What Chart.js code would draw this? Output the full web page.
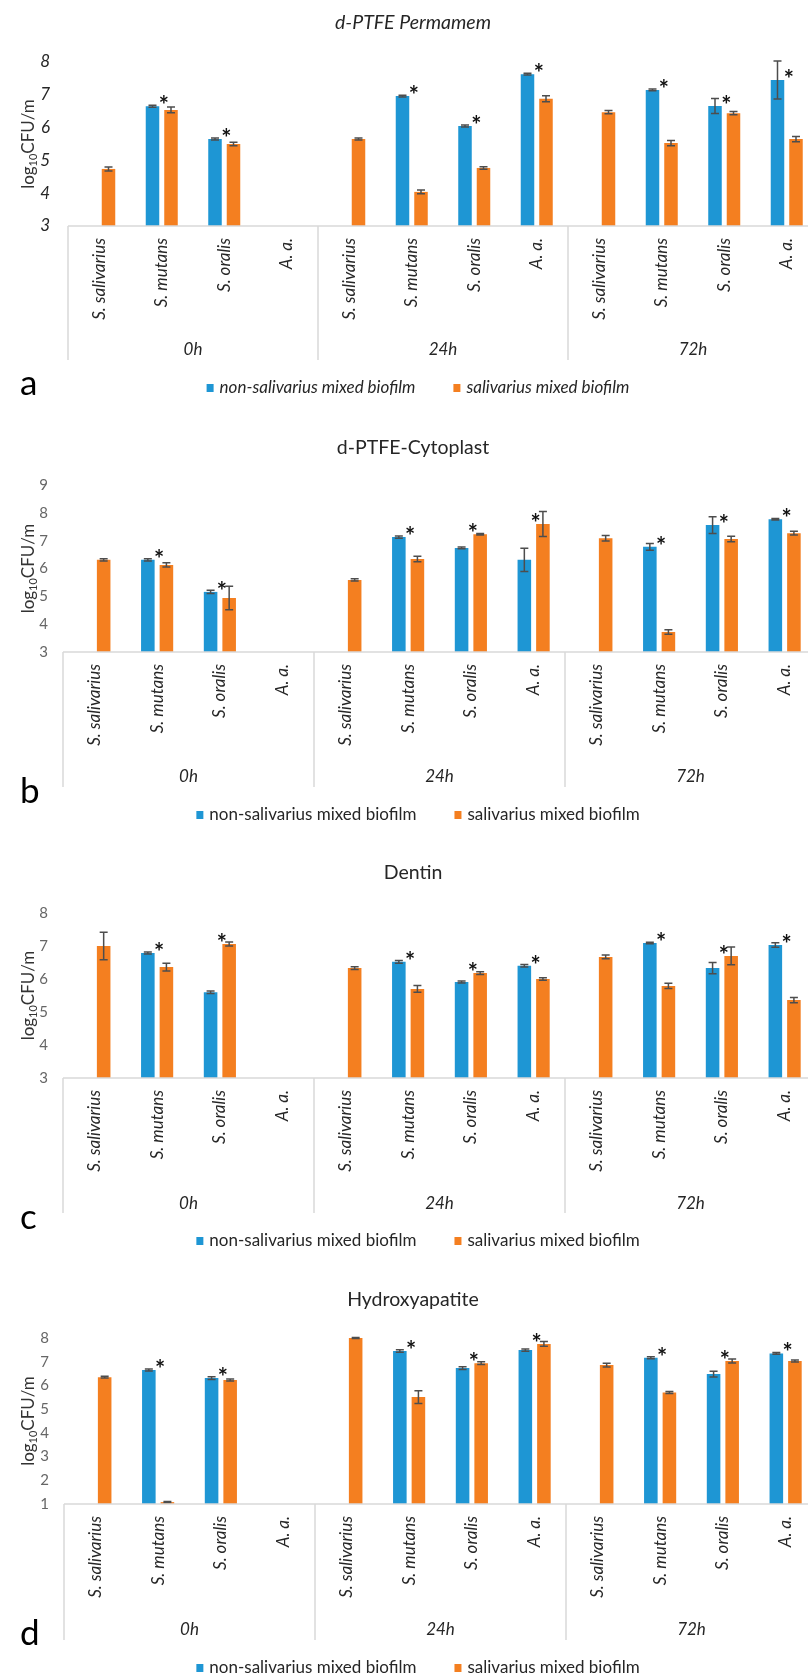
<!DOCTYPE html>
<html>
<head>
<meta charset="utf-8">
<script src="https://cdn.jsdelivr.net/npm/chart.js@4.4.1/dist/chart.umd.min.js"></script>
<style>
html,body{margin:0;padding:0;background:#fff;overflow:hidden;}
#wrap{position:relative;width:830px;height:1677px;overflow:hidden;}
canvas{position:absolute;left:0;display:block;}
</style>
</head>
<body>
<div id="wrap">
<canvas id="ca" width="830" height="420" style="top:0px"></canvas>
<canvas id="cb" width="830" height="430" style="top:420px"></canvas>
<canvas id="cc" width="830" height="410" style="top:850px"></canvas>
<canvas id="cd" width="830" height="417" style="top:1260px"></canvas>
</div>
<script>
// ---------- data ----------
const speciesLabels = ['S. salivarius', 'S. mutans', 'S. oralis', 'A. a.'];
const timeGroups = ['0h', '24h', '72h'];
const seriesNames = ['non-salivarius mixed biofilm', 'salivarius mixed biofilm'];
const categories = timeGroups.flatMap(() => speciesLabels);
const starCategories = [1, 2, 5, 6, 7, 9, 10, 11];

// a) d-PTFE Permamem
const permamemNonSal    = [null, 6.65, 5.65, null,  null, 6.96, 6.05, 7.63,  null, 7.15, 6.66, 7.45];
const permamemNonSalErr = [0,    0.03, 0.03, 0,     0,    0.03, 0.03, 0.03,  0,    0.03, 0.23, 0.58];
const permamemSal       = [4.74, 6.54, 5.50, null,  5.65, 4.04, 4.77, 6.88,  6.47, 5.53, 6.44, 5.65];
const permamemSalErr    = [0.06, 0.09, 0.05, 0,     0.03, 0.06, 0.04, 0.09,  0.05, 0.08, 0.05, 0.08];

// b) d-PTFE-Cytoplast
const cytoplastNonSal    = [null, 6.31, 5.16, null,  null, 7.13, 6.74, 6.31,  null, 6.78, 7.56, 7.77];
const cytoplastNonSalErr = [0,    0.04, 0.06, 0,     0,    0.04, 0.03, 0.42,  0,    0.12, 0.30, 0.03];
const cytoplastSal       = [6.31, 6.13, 4.94, null,  5.59, 6.34, 7.23, 7.60,  7.09, 3.72, 7.06, 7.27];
const cytoplastSalErr    = [0.04, 0.08, 0.42, 0,     0.04, 0.10, 0.03, 0.45,  0.10, 0.08, 0.10, 0.07];

// c) Dentin
const dentinNonSal    = [null, 6.79, 5.60, null,  null, 6.52, 5.91, 6.40,  null, 7.09, 6.33, 7.03];
const dentinNonSalErr = [0,    0.03, 0.04, 0,     0,    0.04, 0.03, 0.04,  0,    0.02, 0.17, 0.07];
const dentinSal       = [7.00, 6.36, 7.06, null,  6.33, 5.70, 6.18, 6.00,  6.67, 5.79, 6.70, 5.36];
const dentinSalErr    = [0.42, 0.12, 0.06, 0,     0.04, 0.10, 0.04, 0.04,  0.06, 0.08, 0.27, 0.08];

// d) Hydroxyapatite
const hydroxyNonSal    = [null, 6.65, 6.31, null,  null, 7.45, 6.73, 7.49,  null, 7.17, 6.48, 7.35];
const hydroxyNonSalErr = [0,    0.04, 0.06, 0,     0,    0.05, 0.06, 0.05,  0,    0.04, 0.12, 0.04];
const hydroxySal       = [6.35, 1.08, 6.23, null,  8.00, 5.51, 6.94, 7.75,  6.86, 5.70, 7.03, 7.03];
const hydroxySalErr    = [0.04, 0.03, 0.04, 0,     0.02, 0.27, 0.06, 0.10,  0.08, 0.04, 0.08, 0.04];

const yTitle = ['log', '10', 'CFU/m'];

// ---------- styling / layout ----------
const BLUE = '#1e96d4';
const ORANGE = '#f47f20';
const W = 830;
const X_AXIS_H = 100;
const FONT = 'Lato, "Open Sans", sans-serif';

const panels = [
  {canvas:'ca', letter:'a', title:'d-PTFE Permamem', italic:true, height:420, plotTop:62, axisY:226, left:68, right:818,
   yMin:3, yMax:8, blue:permamemNonSal, blueErr:permamemNonSalErr, orange:permamemSal, orangeErr:permamemSalErr,
   titleY:23, legendY:388, letterY:395, groupDy:124, sepLen:134, tickColor:'#262626', tickSize:17, tickPad:18},
  {canvas:'cb', letter:'b', title:'d-PTFE-Cytoplast', italic:false, height:430, plotTop:65, axisY:232, left:63, right:816,
   yMin:3, yMax:9, blue:cytoplastNonSal, blueErr:cytoplastNonSalErr, orange:cytoplastSal, orangeErr:cytoplastSalErr,
   titleY:28, legendY:395, letterY:383, groupDy:125, sepLen:135, tickColor:'#666666', tickSize:15, tickPad:15},
  {canvas:'cc', letter:'c', title:'Dentin', italic:false, height:410, plotTop:63, axisY:228, left:63, right:816,
   yMin:3, yMax:8, blue:dentinNonSal, blueErr:dentinNonSalErr, orange:dentinSal, orangeErr:dentinSalErr,
   titleY:23, legendY:391, letterY:379, groupDy:126, sepLen:135, tickColor:'#666666', tickSize:15, tickPad:15},
  {canvas:'cd', letter:'d', title:'Hydroxyapatite', italic:false, height:417, plotTop:78, axisY:244, left:64, right:817,
   yMin:1, yMax:8, blue:hydroxyNonSal, blueErr:hydroxyNonSalErr, orange:hydroxySal, orangeErr:hydroxySalErr,
   titleY:40, legendY:408, letterY:385, groupDy:126, sepLen:136, tickColor:'#666666', tickSize:15, tickPad:15}
];

function overlayPlugin(p) {
  return {
    id: 'overlay_' + p.letter,
    afterDatasetsDraw(chart) {
      const ctx = chart.ctx, ys = chart.scales.y;
      const metas = [chart.getDatasetMeta(0), chart.getDatasetMeta(1)];
      const sets = [[p.blue, p.blueErr], [p.orange, p.orangeErr]];
      ctx.save();
      ctx.strokeStyle = '#4d4d4d';
      ctx.lineWidth = 1.5;
      sets.forEach(([vals, errs], k) => {
        metas[k].data.forEach((el, i) => {
          const v = vals[i], e = errs[i];
          if (v == null || !e) return;
          const x = el.x, yt = ys.getPixelForValue(v + e), yb = ys.getPixelForValue(v - e), cap = 4;
          ctx.beginPath();
          ctx.moveTo(x, yt); ctx.lineTo(x, yb);
          ctx.moveTo(x - cap, yt); ctx.lineTo(x + cap, yt);
          ctx.moveTo(x - cap, yb); ctx.lineTo(x + cap, yb);
          ctx.stroke();
        });
      });
      // significance asterisks
      ctx.fillStyle = '#111';
      ctx.font = 'bold 24px ' + FONT;
      ctx.textAlign = 'center';
      ctx.textBaseline = 'alphabetic';
      starCategories.forEach(i => {
        const b = metas[0].data[i], o = metas[1].data[i];
        const x = (b.x + o.x) / 2 + 2;
        const tops = [];
        if (p.blue[i] != null) tops.push(ys.getPixelForValue(p.blue[i]));
        if (p.orange[i] != null) tops.push(ys.getPixelForValue(p.orange[i]));
        const top = Math.min.apply(null, tops);
        ctx.fillText('*', x, top - 6 + 14);
      });
      ctx.restore();
    },
    afterDraw(chart) {
      const ctx = chart.ctx, ca = chart.chartArea, xs = chart.scales.x;
      ctx.save();
      // category axis line + group separators
      ctx.strokeStyle = '#d9d9d9';
      ctx.lineWidth = 1.5;
      ctx.beginPath();
      ctx.moveTo(ca.left, ca.bottom); ctx.lineTo(ca.right, ca.bottom);
      const n = speciesLabels.length;
      const bounds = [ca.left];
      for (let g = 1; g < timeGroups.length; g++) {
        bounds.push((xs.getPixelForValue(g * n - 1) + xs.getPixelForValue(g * n)) / 2);
      }
      bounds.push(ca.right);
      bounds.forEach(bx => { ctx.moveTo(bx, ca.bottom); ctx.lineTo(bx, ca.bottom + p.sepLen); });
      ctx.stroke();
      // group labels
      ctx.fillStyle = '#262626';
      ctx.font = 'italic 17px ' + FONT;
      ctx.textAlign = 'center';
      ctx.textBaseline = 'middle';
      timeGroups.forEach((t, g) => ctx.fillText(t, (bounds[g] + bounds[g + 1]) / 2, ca.bottom + p.groupDy));
      // chart title
      ctx.fillStyle = '#262626';
      ctx.font = (p.italic ? 'italic ' : '') + '19.5px ' + FONT;
      ctx.fillText(p.title, 413, p.titleY);
      // y axis title with subscript
      const big = '17px ' + FONT, small = '11px ' + FONT;
      ctx.font = big; const w1 = ctx.measureText(yTitle[0]).width, w3 = ctx.measureText(yTitle[2]).width;
      ctx.font = small; const w2 = ctx.measureText(yTitle[1]).width;
      const total = w1 + w2 + w3;
      ctx.translate(28, (ca.top + ca.bottom) / 2);
      ctx.rotate(-Math.PI / 2);
      ctx.fillStyle = '#333';
      ctx.textAlign = 'left';
      ctx.textBaseline = 'alphabetic';
      let sx = -total / 2;
      ctx.font = big; ctx.fillText(yTitle[0], sx, 6); sx += w1;
      ctx.font = small; ctx.fillText(yTitle[1], sx, 9); sx += w2;
      ctx.font = big; ctx.fillText(yTitle[2], sx, 6);
      ctx.setTransform(1, 0, 0, 1, 0, 0);
      // legend
      ctx.font = (p.italic ? 'italic ' : '') + '17px ' + FONT;
      const lw1 = ctx.measureText(seriesNames[0]).width, lw2 = ctx.measureText(seriesNames[1]).width;
      const box = 7, gap = 6, spacing = 38;
      const lt = box + gap + lw1 + spacing + box + gap + lw2;
      let lx = 418 - lt / 2;
      ctx.textAlign = 'left';
      ctx.textBaseline = 'middle';
      ctx.fillStyle = BLUE; ctx.fillRect(lx, p.legendY - 4, box, 8);
      ctx.fillStyle = '#262626'; ctx.fillText(seriesNames[0], lx + box + gap, p.legendY);
      lx += box + gap + lw1 + spacing;
      ctx.fillStyle = ORANGE; ctx.fillRect(lx, p.legendY - 4, box, 8);
      ctx.fillStyle = '#262626'; ctx.fillText(seriesNames[1], lx + box + gap, p.legendY);
      // panel letter
      ctx.fillStyle = '#000';
      ctx.font = '35px ' + FONT;
      ctx.textBaseline = 'alphabetic';
      ctx.fillText(p.letter, 20, p.letterY);
      ctx.restore();
    }
  };
}

function makeChart(p) {
  const canvas = document.getElementById(p.canvas);
  return new Chart(canvas, {
    type: 'bar',
    data: {
      labels: categories,
      datasets: [
        {label: seriesNames[0], data: p.blue, backgroundColor: BLUE, base: p.yMin,
         barPercentage: 0.73, categoryPercentage: 0.592},
        {label: seriesNames[1], data: p.orange, backgroundColor: ORANGE, base: p.yMin,
         barPercentage: 0.73, categoryPercentage: 0.592}
      ]
    },
    options: {
      responsive: false,
      animation: false,
      layout: {padding: {top: p.plotTop, bottom: p.height - p.axisY - X_AXIS_H, left: 0, right: W - p.right}},
      plugins: {legend: {display: false}, title: {display: false}, tooltip: {enabled: false}},
      scales: {
        x: {
          grid: {display: false, drawTicks: false},
          border: {display: false},
          ticks: {autoSkip: false, minRotation: 90, maxRotation: 90, padding: 12, color: '#262626',
                  font: {family: FONT, size: 17, style: 'italic'}},
          afterFit(s) { s.height = X_AXIS_H; }
        },
        y: {
          min: p.yMin, max: p.yMax,
          grid: {display: false, drawTicks: false},
          border: {display: false},
          ticks: {stepSize: 1, padding: p.tickPad, color: p.tickColor,
                  font: {family: FONT, size: p.tickSize, style: p.italic ? 'italic' : 'normal'}},
          afterFit(s) { s.width = p.left; }
        }
      }
    },
    plugins: [overlayPlugin(p)]
  });
}

function start() { panels.forEach(makeChart); }
if (document.fonts && document.fonts.load) {
  Promise.all([document.fonts.load('16px Lato'), document.fonts.load('italic 16px Lato'),
               document.fonts.load('bold 16px Lato')])
    .then(start, start);
} else { start(); }
</script>
</body>
</html>
